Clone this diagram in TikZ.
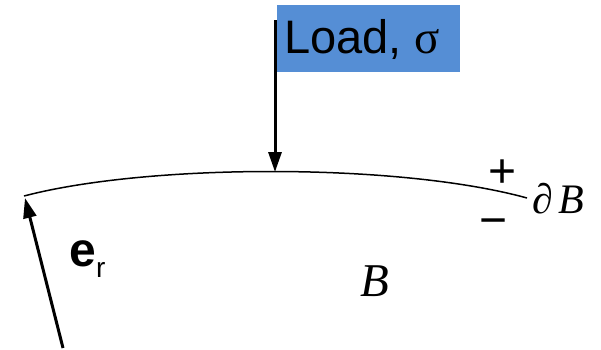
\documentclass[tikz,border=0pt]{standalone}
\usepackage{fontspec}
\setmainfont{Liberation Serif}
\setsansfont{Liberation Sans}
\usetikzlibrary{arrows.meta}
\definecolor{loadblue}{RGB}{85,142,213}
\tikzset{
  thickarrow/.style={line width=3pt,-{Triangle[length=20pt,width=13pt]}},
  lbl/.style={inner sep=0pt,anchor=center}
}
\begin{document}
\begin{tikzpicture}[x=1pt,y=-1pt]
\useasboundingbox (0,0) rectangle (601,349);
% load box
\node[fill=loadblue,minimum width=183pt,minimum height=67pt,inner sep=0pt,anchor=north west] (box) at (277,5) {};
\node[lbl,anchor=base west] (loadtxt) at (284,53) {\fontsize{47}{50}\selectfont\sffamily Load, \rmfamily σ};
% boundary curve
\coordinate (cl) at (24,196);
\coordinate (cr) at (527,198);
\coordinate (ctop) at (275,172);
\draw[line width=1.5pt] (cl) .. controls (150,163) and (400,163) .. (cr);
% load arrow
\coordinate (ltail) at (275,20);
\draw[thickarrow] (ltail) -- (ctop);
% e_r arrow
\coordinate (etail) at (63,348);
\coordinate (etip) at (25,198);
\draw[thickarrow] (etail) -- (etip);
\node[lbl,anchor=base west] (e) at (69,266) {\fontsize{48}{48}\selectfont\sffamily\bfseries e};
\node[lbl,anchor=base west] (r) at (96,277) {\fontsize{28}{28}\selectfont\sffamily r};
% signs
\node[lbl,anchor=base] (plus) at (503,187) {\fontsize{48}{48}\selectfont\sffamily +};
\node[lbl,anchor=base] (minus) at (494,236) {\fontsize{48}{48}\selectfont\sffamily −};
\node[lbl,anchor=base west] (dB) at (532,213) {\fontsize{42}{42}\selectfont\textit{∂\hspace{6pt}B}};
\node[lbl,anchor=base west] (B) at (360,296) {\fontsize{47}{47}\selectfont\textit{B}};
\end{tikzpicture}
\end{document}
